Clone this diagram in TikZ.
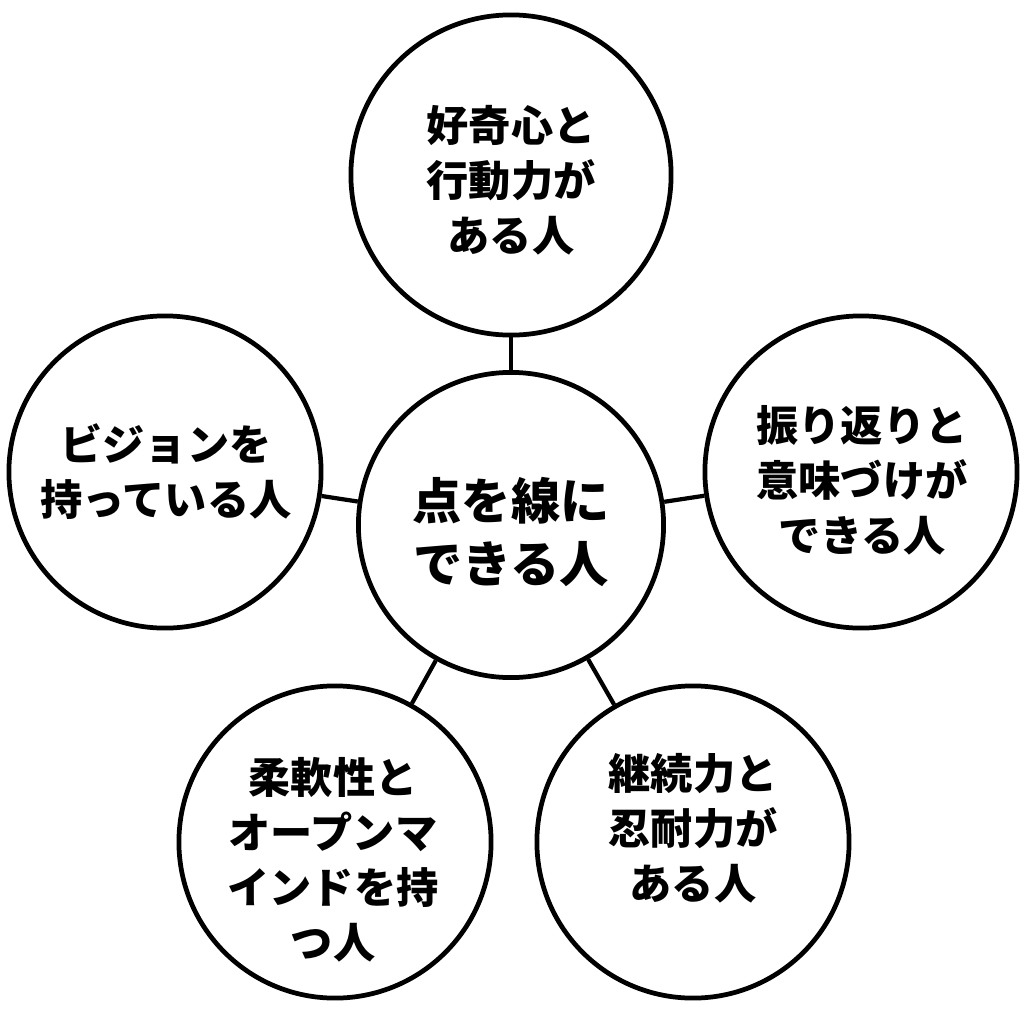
\documentclass[tikz,border=0pt]{standalone}
\usepackage{fontspec}
\newfontfamily\jpfont{Noto Sans CJK JP}
\usetikzlibrary{calc}

\begin{document}
\begin{tikzpicture}[x=0.01cm, y=-0.01cm,
    bubble/.style={draw, circle, line width=1.35pt, minimum size=3.12cm, inner sep=0pt},
    hub/.style={bubble, minimum size=3.05cm},
    link/.style={line width=1.2pt},
    txt/.style={font=\jpfont\bfseries\fontsize{12}{15.6}\selectfont, align=center},
    hubtxt/.style={font=\jpfont\bfseries\fontsize{14}{18}\selectfont, align=center}]
  \useasboundingbox (0,0) rectangle (1024,1024);
  % circles
  \node[hub] (hub) at (511,525) {};
  \node[bubble, minimum size=3.2cm] (top) at (511,175) {};
  \node[bubble] (left) at (165,472) {};
  \node[bubble] (right) at (861,472) {};
  \node[bubble] (bl) at (335,842) {};
  \node[bubble] (br) at (693,842) {};
  % links
  \draw[link] (hub)--(top); \draw[link] (hub)--(left); \draw[link] (hub)--(right);
  \draw[link] (hub)--(bl); \draw[link] (hub)--(br);
  % texts
  \node[hubtxt] (t-hub) at (511,532) {点を線に\\できる人};
  \node[txt] (t-top) at (511,180) {好奇心と\\行動力が\\ある人};
  \node[txt] (t-left) at (166,472) {ビジョンを\\持っている人};
  \node[txt] (t-right) at (862,480) {振り返りと\\意味づけが\\できる人};
  \node[txt] (t-bl) at (333,860) {柔軟性と\\オープンマ\\インドを持\\つ人};
  \node[txt] (t-br) at (693,828) {継続力と\\忍耐力が\\ある人};
\end{tikzpicture}
\end{document}
